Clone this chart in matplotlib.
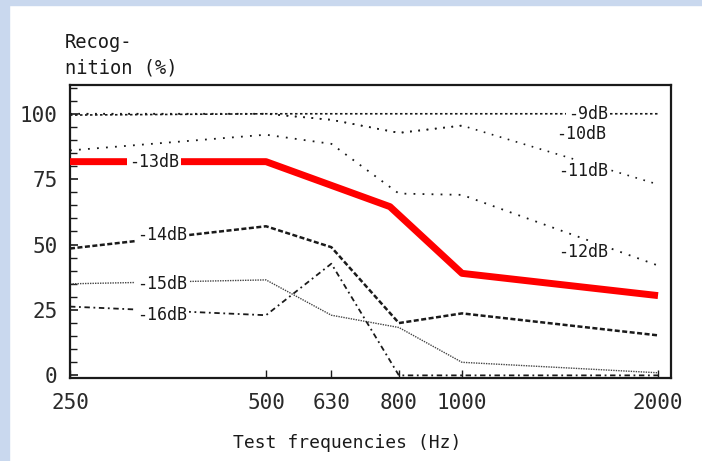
import matplotlib.pyplot as plt
from matplotlib.patches import Rectangle

freqs = [250, 500, 630, 800, 1000, 2000]

db9 = [99.5, 100, 100, 100, 100, 100]
db10 = [100, 100, 97.7, 92.7, 95.5, None]
db11 = [100, 100, 97.7, 92.7, 95.5, 73]
db12 = [86, 92, 88.5, 69.5, 69, 42]
db14 = [48.5, 57, 49, 20, 23.7, 15.3]
db15 = [35, 36.5, 23, 18.3, 5, 1]
db16 = [26.3, 23, 42.7, 0, 0, 0]

# red overlay drawn by hand over the -13dB curve
red_freqs = [250, 500, 775, 1000, 2000]
db13 = [81.7, 81.7, 64.5, 39, 30.5]

curve_labels = ['-9dB', '-10dB', '-11dB', '-12dB', '-13dB', '-14dB', '-15dB', '-16dB']
label_x = [1560, 1525, 1535, 1535, 337, 346, 346, 346]
label_y = [100, 92.4, 78, 47, 81.7, 53.8, 35, 23]

xticks = [250, 500, 630, 800, 1000, 2000]
yticks = [0, 25, 50, 75, 100]

font = 'DejaVu Sans Mono'
ink = '#1a1a1a'

fig = plt.figure(figsize=(7.02, 4.61), dpi=100)
fig.patch.set_facecolor('white')
# light blue frame of the scan
fig.patches.append(Rectangle((0, 0), 9 / 702, 1, transform=fig.transFigure, color='#c9d8ee', zorder=0))
fig.patches.append(Rectangle((0, 1 - 5 / 461), 1, 5 / 461, transform=fig.transFigure, color='#c9d8ee', zorder=0))

ax = fig.add_axes([70 / 702, 1 - 378 / 461, 601 / 702, 293 / 461])
ax.set_xscale('log', base=2)
ax.set_xlim(250, 2094)
ax.set_ylim(-1, 111)

to_nan = lambda vals: [float('nan') if v is None else v for v in vals]

ax.plot(freqs, db9, color=ink, lw=1.2, ls=(0, (1.5, 1.5)))
ax.plot(freqs, to_nan(db10), color=ink, lw=1.2, ls=(0, (1, 4)))
ax.plot(freqs, db11, color=ink, lw=1.2, ls=(0, (1, 4)))
ax.plot(freqs, db12, color=ink, lw=1.3, ls=(0, (1, 4)))
ax.plot(freqs, db14, color=ink, lw=1.8, ls=(0, (2, 1)))
ax.plot(freqs, db15, color='#444444', lw=1.0, ls=(0, (1, 0.8)))
ax.plot(freqs, db16, color=ink, lw=1.3, ls=(0, (3, 2, 1, 2)))
ax.plot(red_freqs, db13, color='#ff0000', lw=5.0, solid_capstyle='butt', zorder=5)

for text, x, y in zip(curve_labels, label_x, label_y):
    ax.text(x, y, text, ha='center', va='center', fontsize=12, family=font, color=ink,
            bbox=dict(fc='white', ec='none', pad=1.5), zorder=6)

ax.set_xticks(xticks)
ax.set_xticklabels([str(t) for t in xticks])
ax.xaxis.set_minor_locator(plt.NullLocator())
ax.set_yticks(yticks)
ax.set_yticks(range(0, 111, 5), minor=True)
ax.tick_params(axis='both', which='both', direction='in', color=ink, labelsize=15, labelcolor='#2a2a2a')
ax.tick_params(axis='y', which='major', length=6, width=1.2, pad=9)
ax.tick_params(axis='y', which='minor', length=5, width=1.0)
ax.tick_params(axis='x', which='major', length=6, width=1.0, pad=11)
for lbl in ax.get_xticklabels() + ax.get_yticklabels():
    lbl.set_family(font)
for side in ['left', 'right', 'top', 'bottom']:
    ax.spines[side].set_linewidth(1.6)
    ax.spines[side].set_color(ink)

fig.text(65 / 702, 1 - 33 / 461, 'Recog-\nnition (%)', ha='left', va='top', fontsize=13.5,
         family=font, color=ink, linespacing=1.4)
fig.text(347 / 702, 1 - 443 / 461, 'Test frequencies (Hz)', ha='center', va='center', fontsize=13,
         family=font, color=ink)

plt.savefig('out.png', dpi=100)
